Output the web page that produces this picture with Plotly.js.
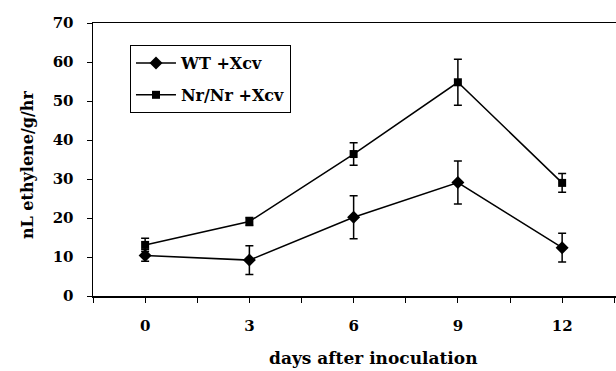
<!DOCTYPE html>
<html>
<head>
<meta charset="utf-8">
<script src="https://cdn.plot.ly/plotly-3.0.1.min.js"></script>
<style>html,body{margin:0;padding:0;background:#fff;}#chart{width:616px;height:371px;}</style>
</head>
<body>
<div id="chart"></div>
<script>
const days = [0, 3, 6, 9, 12];
const wtValues = [10.4, 9.2, 20.2, 29.1, 12.4];
const wtErrors = [1.5, 3.7, 5.5, 5.5, 3.7];
const nrValues = [13.1, 19.1, 36.4, 54.8, 29.0];
const nrErrors = [1.7, 1.0, 2.9, 5.9, 2.4];
const xTickVals = [-1.5, 0, 1.5, 3, 4.5, 6, 7.5, 9, 10.5, 12, 13.5];
const xTickText = ['', '0', '', '3', '', '6', '', '9', '', '12', ''];
const xTitle = 'days after inoculation';
const yTitle = 'nL ethylene/g/hr';

const serif = 'DejaVu Serif, serif';

const traces = [
  {
    x: days, y: wtValues, name: 'WT +Xcv', type: 'scatter', mode: 'lines+markers',
    legendgroup: 'a',
    line: {color: '#000', width: 1.5},
    marker: {symbol: 'diamond', size: 10, color: '#000'},
    error_y: {type: 'data', array: wtErrors, visible: true, color: '#000', thickness: 1.5, width: 4}
  },
  {
    x: days, y: nrValues, name: 'Nr/Nr +Xcv', type: 'scatter', mode: 'lines+markers',
    legendgroup: 'b',
    line: {color: '#000', width: 1.5},
    marker: {symbol: 'square', size: 8, color: '#000'},
    error_y: {type: 'data', array: nrErrors, visible: true, color: '#000', thickness: 1.5, width: 4}
  }
];

const layout = {
  width: 616, height: 371,
  margin: {l: 93, r: 0, t: 23, b: 75, pad: 0},
  paper_bgcolor: '#fff', plot_bgcolor: '#fff',
  font: {family: serif, size: 15, color: '#000', weight: 'bold'},
  showlegend: true,
  legend: {
    x: 0.0707, y: 0.919, xanchor: 'left', yanchor: 'top',
    bordercolor: '#000', borderwidth: 1, bgcolor: '#fff',
    font: {family: serif, size: 16, color: '#000', weight: 'bold'},
    traceorder: 'grouped', tracegroupgap: 8, itemwidth: 40
  },
  xaxis: {
    range: [-1.5, 13.55], showgrid: false, zeroline: false,
    showline: true, linecolor: '#000', linewidth: 1.5, mirror: true,
    tickmode: 'array', tickvals: xTickVals, ticktext: xTickText,
    ticks: 'outside', ticklen: 5, tickcolor: '#000', tickwidth: 1,
    ticklabelstandoff: 10,
    tickfont: {family: serif, size: 15, color: '#000', weight: 'bold'}
  },
  yaxis: {
    range: [0, 70], dtick: 10, showgrid: false, zeroline: false,
    showline: true, linecolor: '#000', linewidth: 1.5,
    ticks: 'outside', ticklen: 5, tickcolor: '#000', tickwidth: 1,
    ticklabelstandoff: 10,
    tickfont: {family: serif, size: 15, color: '#000', weight: 'bold'}
  },
  annotations: [
    {text: xTitle, xref: 'paper', yref: 'paper', x: 0.537, y: -0.227, xanchor: 'center', yanchor: 'middle',
     showarrow: false, font: {family: serif, size: 17, color: '#000', weight: 'bold'}},
    {text: yTitle, xref: 'paper', yref: 'paper', x: -0.124, y: 0.48, xanchor: 'center', yanchor: 'middle',
     textangle: -90, showarrow: false, font: {family: serif, size: 16, color: '#000', weight: 'bold'}}
  ]
};

Plotly.newPlot('chart', traces, layout, {displayModeBar: false, staticPlot: true});
</script>
</body>
</html>
